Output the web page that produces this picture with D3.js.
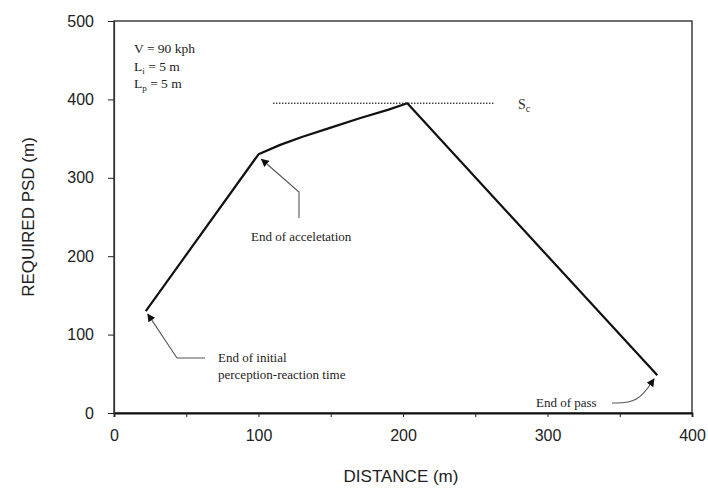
<!DOCTYPE html>
<html><head><meta charset="utf-8">
<script src="https://cdn.jsdelivr.net/npm/d3@7"></script>
<style>body{margin:0;background:#fff}svg{display:block}</style>
</head><body>
<script>
const distance = [22, 100, 115, 130, 150, 170, 190, 203, 376];
const psd      = [130, 330, 342, 352, 364, 376, 387, 395, 48];
const scLine = {x: [110, 263], y: 395};
const xTicks = [0, 100, 200, 300, 400];
const xMinorTicks = [50, 150, 250, 350];
const yTicks = [0, 100, 200, 300, 400, 500];
const paramLines = [["V = 90 kph", ""], ["L", "i", " = 5 m"], ["L", "p", " = 5 m"]];

const W = 708, H = 495;
const svg = d3.select("body").append("svg").attr("width", W).attr("height", H);
const x = d3.scaleLinear().domain([0, 400]).range([114, 692]);
const y = d3.scaleLinear().domain([0, 500]).range([413, 21]);

const sans = "Liberation Sans, Arial, sans-serif";
const serif = "Liberation Serif, Times New Roman, serif";

// frame
svg.append("rect").attr("x", x(0)).attr("y", y(500)).attr("width", x(400)-x(0)).attr("height", y(0)-y(500))
  .attr("fill", "none").attr("stroke", "#222").attr("stroke-width", 1.3);

// axes
const xAxis = d3.axisBottom(x).tickValues(xTicks).tickSize(4).tickFormat(d3.format("d"));
const gx = svg.append("g").attr("transform", `translate(0,${y(0)})`).call(xAxis);
gx.select(".domain").attr("stroke", "#111").attr("stroke-width", 1.8);
gx.selectAll("text").attr("font-family", sans).attr("font-size", 16).attr("fill", "#222").attr("dy", "1.3em");
svg.append("g").attr("transform", `translate(0,${y(0)})`).call(d3.axisBottom(x).tickValues(xMinorTicks).tickSize(4).tickFormat(""))
  .select(".domain").remove();

const yAxis = d3.axisLeft(y).tickValues(yTicks).tickSize(6).tickPadding(14);
const gy = svg.append("g").attr("transform", `translate(${x(0)},0)`).call(yAxis);
gy.select(".domain").attr("stroke", "#333").attr("stroke-width", 1.2);
gy.selectAll("text").attr("font-family", sans).attr("font-size", 16).attr("fill", "#222");
svg.selectAll(".tick line").attr("stroke", "#222");

// axis titles
svg.append("text").attr("x", (x(0)+x(400))/2 - 2).attr("y", 482).attr("text-anchor", "middle")
  .attr("font-family", sans).attr("font-size", 17).attr("fill", "#222").text("DISTANCE (m)");
svg.append("text").attr("transform", `translate(34,${(y(0)+y(500))/2}) rotate(-90)`).attr("text-anchor", "middle")
  .attr("font-family", sans).attr("font-size", 17).attr("fill", "#222").text("REQUIRED PSD (m)");

// Sc dotted line
svg.append("line").attr("x1", x(scLine.x[0])).attr("x2", x(scLine.x[1])).attr("y1", y(scLine.y)).attr("y2", y(scLine.y))
  .attr("stroke", "#444").attr("stroke-width", 1.4).attr("stroke-dasharray", "1.5,1.5");
const sc = svg.append("text").attr("x", 518).attr("y", 109).attr("font-family", serif).attr("font-size", 14).attr("fill", "#333");
sc.append("tspan").text("S");
sc.append("tspan").attr("font-size", 10).attr("dy", 3).text("c");

// main curve
const pts = distance.map((d, i) => [d, psd[i]]);
svg.append("path").datum(pts)
  .attr("d", d3.line().x(d => x(d[0])).y(d => y(d[1])).curve(d3.curveLinear))
  .attr("fill", "none").attr("stroke", "#111").attr("stroke-width", 2.2).attr("stroke-linejoin", "round");

// parameter text
paramLines.forEach((parts, i) => {
  const t = svg.append("text").attr("x", 134).attr("y", 53 + i*17.5).attr("font-family", serif).attr("font-size", 13.5).attr("fill", "#222");
  if (parts.length === 2) { t.text(parts[0]); }
  else {
    t.append("tspan").text(parts[0]);
    t.append("tspan").attr("font-size", 9).attr("dy", 3).text(parts[1]);
    t.append("tspan").attr("dy", -3).text(parts[2]);
  }
});

// arrowheads
const defs = svg.append("defs");
defs.append("marker").attr("id", "ah").attr("viewBox", "0 0 10 10").attr("refX", 9).attr("refY", 5)
  .attr("markerWidth", 8).attr("markerHeight", 8).attr("orient", "auto-start-reverse").attr("markerUnits", "userSpaceOnUse")
  .append("path").attr("d", "M0,0 L10,5 L0,10 z").attr("fill", "#111");

function leader(points, curve) {
  svg.append("path").attr("d", d3.line().curve(curve || d3.curveLinear)(points))
    .attr("fill", "none").attr("stroke", "#555").attr("stroke-width", 1.1).attr("marker-end", "url(#ah)");
}
// End of initial perception-reaction time
leader([[205, 358], [177, 358], [x(distance[0]) + 2, y(psd[0]) + 3]]);
svg.append("text").attr("x", 218).attr("y", 362).attr("font-family", serif).attr("font-size", 13).attr("fill", "#222").text("End of initial");
svg.append("text").attr("x", 218).attr("y", 379).attr("font-family", serif).attr("font-size", 13).attr("fill", "#222").text("perception-reaction time");
// End of acceleration
leader([[299, 218], [299, 192], [x(distance[1]) + 3, y(psd[1]) + 5]]);
svg.append("text").attr("x", 251).attr("y", 241).attr("font-family", serif).attr("font-size", 13).attr("fill", "#222").text("End of acceletation");
// End of pass
leader([[612, 403], [638, 403], [654, 379]], d3.curveBasis);
svg.append("text").attr("x", 536).attr("y", 407).attr("font-family", serif).attr("font-size", 13).attr("fill", "#222").text("End of pass");
</script>
</body></html>
